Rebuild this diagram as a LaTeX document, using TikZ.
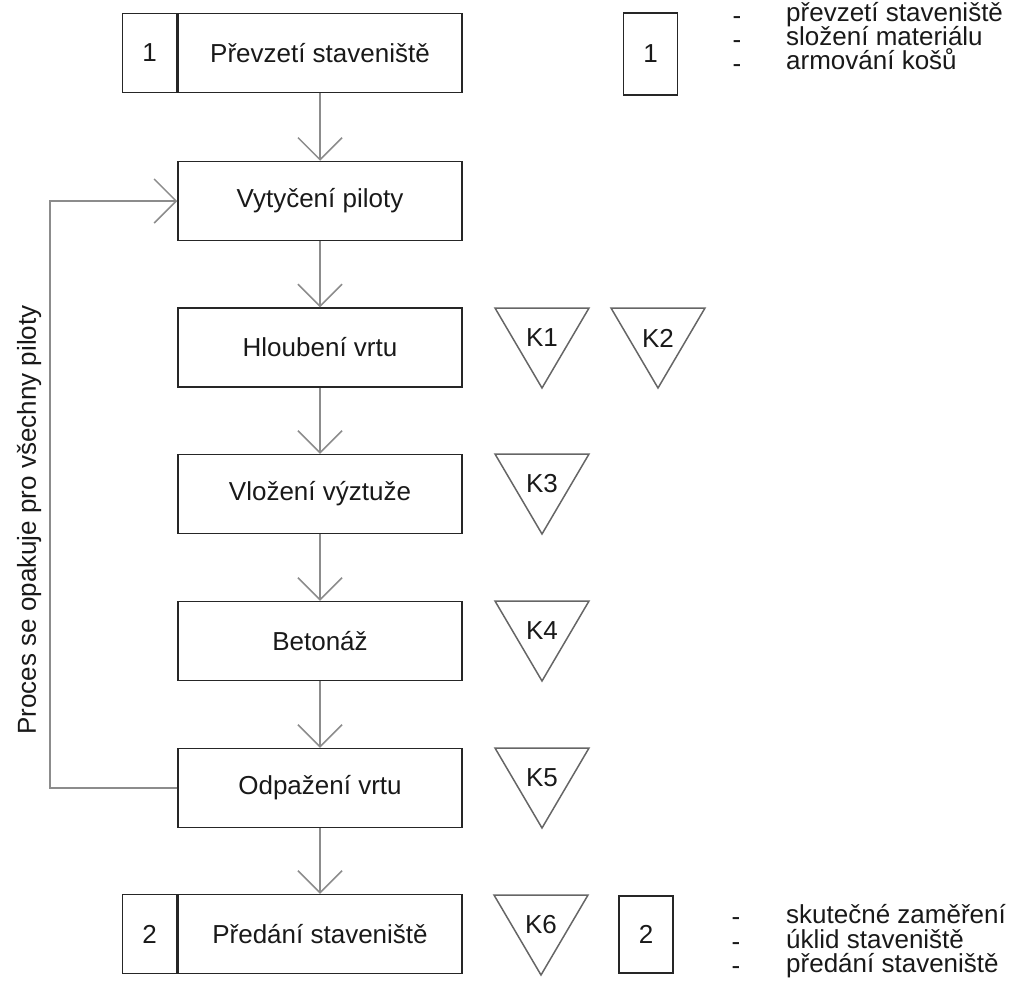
\documentclass[tikz,border=0pt]{standalone}
\usepackage{fontspec}
\setmainfont{Liberation Sans}
\usetikzlibrary{arrows.meta}
\begin{document}
\begin{tikzpicture}[x=1pt,y=-1pt,
  every node/.style={font=\fontsize{26}{30}\selectfont, text=black!90},
  stepbox/.style={draw=black!85, line width=1.5pt, minimum width=284pt, minimum height=79pt, inner sep=0pt},
  numbox/.style={draw=black!85, line width=1.5pt, minimum width=54pt, minimum height=79pt, inner sep=0pt},
  flow/.style={draw=black!45, line width=1.5pt, -{Straight Barb[length=22pt,width=44pt,line width=1.5pt]}},
  tri/.style={draw=black!60, line width=1.5pt, line join=miter},
  listtext/.style={anchor=base west, inner sep=0pt},
  listdash/.style={anchor=base, inner sep=0pt, text depth=0pt},
]
\useasboundingbox (0,0) rectangle (1016,980);

% main boxes
\node[stepbox] (b1) at (320,53) {Převzetí staveniště};
\node[numbox, anchor=east] (n1) at (b1.west) {1};
\node[stepbox] (b2) at (320,201) {Vytyčení piloty};
\node[stepbox] (b3) at (320,347.5) {Hloubení vrtu};
\node[stepbox] (b4) at (320,494) {Vložení výztuže};
\node[stepbox] (b5) at (320,641) {Betonáž};
\node[stepbox] (b6) at (320,788) {Odpažení vrtu};
\node[stepbox] (b7) at (320,934) {Předání staveniště};
\node[numbox, anchor=east] (n7) at (b7.west) {2};

% flow arrows
\draw[flow] (b1.south) -- (b2.north);
\draw[flow] (b2.south) -- (b3.north);
\draw[flow] (b3.south) -- (b4.north);
\draw[flow] (b4.south) -- (b5.north);
\draw[flow] (b5.south) -- (b6.north);
\draw[flow] (b6.south) -- (b7.north);

% loop
\coordinate (lc) at (50,0);
\draw[flow] (b6.west) -- (b6.west -| lc) -- (b2.west -| lc) -- (b2.west);
\node[rotate=90] (looplabel) at (29,520) {Proces se opakuje pro všechny piloty};

% control triangles
\foreach \x/\y/\k in {495/308/K1, 611/308/K2, 495/454/K3, 495/601/K4, 495/748/K5, 494/895/K6}{
  \draw[tri] (\x,\y) -- ++(94,0) -- ++(-47,80) -- cycle;
  \node (t\k) at (\x+47,\y+30) {\k};
}

% right side number boxes and lists
\node[numbox, minimum height=82pt] (r1) at (650.5,54) {1};
\node[numbox, minimum height=77pt] (r2) at (646,934.5) {2};

\foreach \y/\t in {21/převzetí staveniště, 45/složení materiálu, 69/armování košů}{
  \node[listdash] at (737,\y+3) {-};
  \node[listtext] at (786,\y) {\t};
}
\foreach \y/\t in {923/skutečné zaměření, 948/úklid staveniště, 972/předání staveniště}{
  \node[listdash] at (736,\y+2) {-};
  \node[listtext] at (786,\y) {\t};
}
\end{tikzpicture}
\end{document}
